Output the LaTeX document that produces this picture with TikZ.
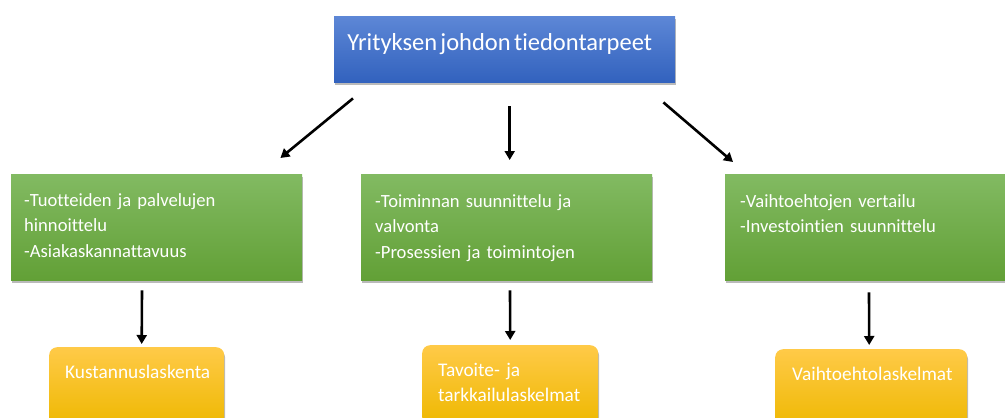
\documentclass[tikz,border=0pt]{standalone}
\usepackage{fontspec}
\setmainfont{Carlito}[WordSpace=0.6,Ligatures=NoCommon]
\usetikzlibrary{arrows.meta,shadows}
\definecolor{blueT}{RGB}{93,135,214}
\definecolor{blueB}{RGB}{50,98,190}
\definecolor{greenT}{RGB}{130,186,98}
\definecolor{greenB}{RGB}{98,160,54}
\definecolor{orangeT}{RGB}{255,202,72}
\definecolor{orangeB}{RGB}{238,184,0}
\tikzset{
  boxshadow/.style={drop shadow={shadow xshift=1pt,shadow yshift=-3pt,opacity=0.45,fill=black!60}},
  topbox/.style={anchor=north west,inner sep=0,top color=blueT,bottom color=blueB,boxshadow,minimum width=341pt,minimum height=66pt},
  needbox/.style={anchor=north west,inner sep=0,top color=greenT,bottom color=greenB,boxshadow,minimum width=291pt,minimum height=106pt},
  calcbox/.style={anchor=north west,inner sep=0,top color=orangeT,bottom color=orangeB,boxshadow,rounded corners=8pt,minimum height=80pt},
  needtext/.style={anchor=north west,inner sep=0,text=white,align=left,text width=270pt,font=\fontsize{18.6}{25.5}\selectfont},
  calctext/.style={anchor=north west,inner sep=0,text=white,align=left,text width=170pt,font=\fontsize{19.3}{25}\selectfont},
  arr/.style={line width=2.6pt,-{Triangle[length=9pt,width=10pt]}}
}
\begin{document}
\begin{tikzpicture}[x=1pt,y=-1pt]
\useasboundingbox (0,0) rectangle (1005,418);
% boxes
\node[topbox] (top) at (334,16) {};
\node[anchor=base,inner sep=0,text=white,font=\fontsize{24.5}{30}\selectfont] (toptext) at ([xshift=-5pt,yshift=-34.5pt]top.north) {Yrityksen johdon tiedontarpeet};
\node[needbox] (n1) at (11,174) {};
\node[needbox] (n2) at (361,174) {};
\node[needbox,minimum width=300pt] (n3) at (725,174) {};
\node[needtext] (n1t) at ([xshift=13pt,yshift=-19pt]n1.north west) {-Tuotteiden ja palvelujen\\hinnoittelu\\-Asiakaskannattavuus};
\node[needtext] (n2t) at ([xshift=14pt,yshift=-20pt]n2.north west) {-Toiminnan suunnittelu ja\\valvonta\\-Prosessien ja toimintojen};
\node[needtext] (n3t) at ([xshift=15pt,yshift=-20pt]n3.north west) {-Vaihtoehtojen vertailu\\-Investointien suunnittelu};
\node[calcbox,minimum width=175pt] (c1) at (49,347) {};
\node[calcbox,minimum width=176pt] (c2) at (422,345) {};
\node[calcbox,minimum width=192pt] (c3) at (775,349) {};
\node[calctext] (c1t) at ([xshift=16pt,yshift=-18pt]c1.north west) {Kustannuslaskenta};
\node[calctext] (c2t) at ([xshift=16pt,yshift=-18pt]c2.north west) {Tavoite- ja\\tarkkailulaskelmat};
\node[calctext] (c3t) at ([xshift=17pt,yshift=-18pt]c3.north west) {Vaihtoehtolaskelmat};
% arrows
\draw[arr] ([xshift=19pt,yshift=-16pt]top.south west) -- ([xshift=-22pt,yshift=16pt]n1.north east);
\draw[arr] ([xshift=5pt,yshift=-24pt]top.south) -- ([xshift=3pt,yshift=14pt]n2.north);
\draw[arr] ([xshift=-12pt,yshift=-20pt]top.south east) -- ([xshift=8pt,yshift=12pt]n3.north west);
\draw[arr] ([xshift=131pt,yshift=-10pt]n1.south west) -- ([xshift=5pt,yshift=3pt]c1.north);
\draw[arr] ([xshift=149pt,yshift=-10pt]n2.south west) -- ([yshift=5pt]c2.north);
\draw[arr] ([xshift=144pt,yshift=-12pt]n3.south west) -- ([xshift=-2pt,yshift=4pt]c3.north);
\end{tikzpicture}
\end{document}
